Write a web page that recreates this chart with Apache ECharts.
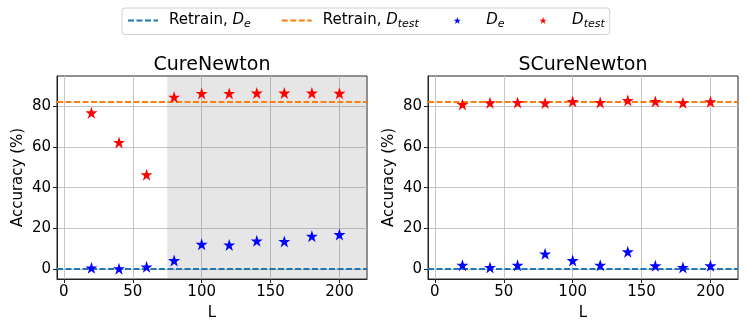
<!DOCTYPE html>
<html lang="en">
<head>
    <meta charset="UTF-8">
    <title>Accuracy vs L</title>
    <script src="https://cdn.jsdelivr.net/npm/echarts@6/dist/echarts.min.js"></script>
    <style>
        html, body { margin: 0; padding: 0; background: #fff; }
        #main { width: 747px; height: 333px; }
    </style>
</head>
<body>
<div id="main"></div>
<script>
    // data
    var L = [20, 40, 60, 80, 100, 120, 140, 160, 180, 200];
    var cureDe = [0.5, 0.1, 1.0, 4.1, 12.1, 11.8, 13.8, 13.5, 16.1, 16.9];
    var cureDtest = [76.9, 62.3, 46.4, 84.6, 86.4, 86.4, 86.6, 86.6, 86.6, 86.5];
    var scureDe = [1.8, 0.7, 1.8, 7.4, 4.1, 1.8, 8.4, 1.5, 0.7, 1.5];
    var scureDtest = [81.0, 81.8, 82.0, 81.7, 82.5, 82.0, 83.0, 82.5, 81.8, 82.3];
    var retrainDe = 0;
    var retrainDtest = 82.3;
    var shadeFrom = 75;
    var xTicks = [0, 50, 100, 150, 200];
    var yTicks = [0, 20, 40, 60, 80];
    var titles = ['CureNewton', 'SCureNewton'];

    var font = 'DejaVu Sans';
    var star = 'path://M50,0 L61.8,35.3 L98.9,35.3 L68.9,57.1 L80.3,92.7 L50,70.6 L19.7,92.7 L31.1,57.1 L1.1,35.3 L38.2,35.3 Z';

    function pairs(xs, ys) {
        return xs.map(function (x, i) { return [x, ys[i]]; });
    }

    var gridLeft = [57, 428];
    var grids = [], xAxes = [], yAxes = [], titleList = [];
    for (var g = 0; g < 2; g++) {
        grids.push({ left: gridLeft[g], top: 76, width: 310, height: 203, show: true,
            borderColor: '#222', borderWidth: 1, backgroundColor: 'transparent' });
        xAxes.push({
            gridIndex: g, type: 'value', min: -5, max: 220,
            name: 'L', nameLocation: 'middle', nameGap: 27,
            nameTextStyle: { fontFamily: font, fontSize: 15, color: '#000' },
            axisLine: { show: true, onZero: false, lineStyle: { color: '#222' } },
            axisTick: { show: true, length: 4, customValues: xTicks, lineStyle: { color: '#222' } },
            axisLabel: { customValues: xTicks, margin: 6, fontFamily: font, fontSize: 15, color: '#000' },
            splitLine: { show: true, lineStyle: { color: '#c4c4c4', width: 1 } }
        });
        yAxes.push({
            gridIndex: g, type: 'value', min: -5, max: 95,
            name: 'Accuracy (%)', nameLocation: 'middle', nameGap: 31,
            nameTextStyle: { fontFamily: font, fontSize: 15, color: '#000' },
            axisLine: { show: true, onZero: false, lineStyle: { color: '#222' } },
            axisTick: { show: true, length: 4, customValues: yTicks, lineStyle: { color: '#222' } },
            axisLabel: { customValues: yTicks, margin: 6, fontFamily: font, fontSize: 15, color: '#000' },
            splitLine: { show: true, lineStyle: { color: '#c4c4c4', width: 1 } }
        });
        titleList.push({
            text: titles[g], left: gridLeft[g] + 155, top: 56, textAlign: 'center', padding: 0,
            textStyle: { fontFamily: font, fontSize: 19, fontWeight: 'normal', color: '#000' }
        });
    }

    function refLine(name, value, color, g) {
        return {
            name: name, type: 'line', xAxisIndex: g, yAxisIndex: g, data: [],
            symbol: 'none', z: 4,
            lineStyle: { color: color, width: 2, type: [6, 2.5] },
            itemStyle: { color: color },
            markLine: {
                silent: true, symbol: 'none', label: { show: false },
                lineStyle: { color: color, width: 2, type: [6, 2.5] },
                data: [{ yAxis: value }]
            }
        };
    }

    function stars(name, xs, ys, color, g) {
        return {
            name: name, type: 'scatter', xAxisIndex: g, yAxisIndex: g,
            data: pairs(xs, ys), symbol: star, symbolSize: 12, z: 5,
            itemStyle: { color: color, opacity: 1 }
        };
    }

    var series = [
        refLine('retrainDe', retrainDe, '#1f77b4', 0),
        refLine('retrainDtest', retrainDtest, '#ff7f0e', 0),
        refLine('retrainDe', retrainDe, '#1f77b4', 1),
        refLine('retrainDtest', retrainDtest, '#ff7f0e', 1),
        stars('De', L, cureDe, '#0000ff', 0),
        stars('Dtest', L, cureDtest, '#ff0000', 0),
        stars('De', L, scureDe, '#0000ff', 1),
        stars('Dtest', L, scureDtest, '#ff0000', 1)
    ];
    // grey band on the left plot
    series.push({
        type: 'line', xAxisIndex: 0, yAxisIndex: 0, data: [], z: 1, silent: true,
        markArea: {
            silent: true, itemStyle: { color: 'rgba(128,128,128,0.2)' },
            data: [[{ xAxis: shadeFrom }, { xAxis: 220 }]]
        }
    });

    // {g| } adds a bit of extra room before the star items
    var legendText = {
        retrainDe: '{a|Retrain, }{i|D}{s|e}',
        retrainDtest: '{a|Retrain, }{i|D}{s|test}{g| }',
        De: '{p| }{i|D}{s|e}{g| }',
        Dtest: '{p| }{i|D}{s|test}'
    };

    var chart = echarts.init(document.getElementById('main'));
    chart.setOption({
        animation: false,
        backgroundColor: '#fff',
        title: titleList,
        grid: grids,
        xAxis: xAxes,
        yAxis: yAxes,
        legend: {
            left: 122, top: 8, width: 560, height: 20,
            padding: [5, 5, 5, 5],
            borderColor: '#d0d0d0', borderWidth: 1, borderRadius: 3,
            itemWidth: 30, itemHeight: 7, itemGap: 30,
            data: [
                { name: 'retrainDe', itemStyle: { opacity: 0 } },
                { name: 'retrainDtest', itemStyle: { opacity: 0 } },
                { name: 'De', icon: star },
                { name: 'Dtest', icon: star }
            ],
            formatter: function (name) { return legendText[name]; },
            textStyle: {
                fontFamily: font, fontSize: 15, color: '#000', padding: [0, 0, 0, 6],
                rich: {
                    a: { fontFamily: font, fontSize: 15, lineHeight: 18 },
                    i: { fontFamily: font, fontSize: 15, fontStyle: 'italic', lineHeight: 18 },
                    s: { fontFamily: font, fontSize: 11, fontStyle: 'italic', lineHeight: 4, verticalAlign: 'bottom' },
                    g: { width: 13, fontSize: 15 },
                    p: { width: 3, fontSize: 15 }
                }
            }
        },
        series: series
    });
</script>
</body>
</html>
